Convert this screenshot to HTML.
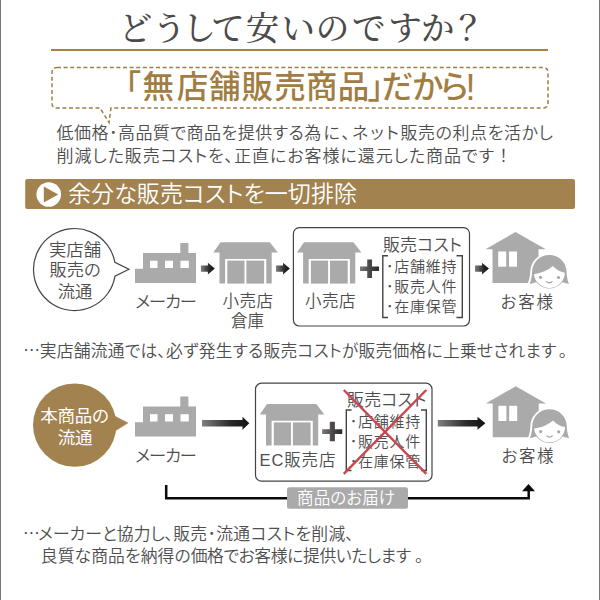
<!DOCTYPE html>
<html lang="ja">
<head>
<meta charset="utf-8">
<title>どうして安いのですか?</title>
<style>
html,body{margin:0;padding:0;background:#fff;}
body{width:600px;height:600px;overflow:hidden;position:relative;}
svg{position:absolute;left:0;top:0;display:block;}
text{font-family:"Liberation Sans","Noto Sans CJK JP",sans-serif;font-weight:350;fill:#4e4e4e;font-feature-settings:"palt";}
.serif{font-family:"Liberation Serif","Noto Serif CJK JP","Noto Serif CJK SC",serif;font-weight:500;fill:#4b4b4b;font-feature-settings:normal;}
.gold{fill:#a17d42;}
.w{fill:#fff;}
.lbl{font-size:16.5px;}
.cj{font-family:"Noto Sans CJK JP","Liberation Sans",sans-serif;font-feature-settings:normal;}
</style>
</head>
<body>
<svg width="600" height="600" viewBox="0 0 600 600">
<defs>
  <linearGradient id="ga" x1="0" y1="0" x2="1" y2="0">
    <stop offset="0" stop-color="#808080"/>
    <stop offset="0.6" stop-color="#2a2a2a"/>
    <stop offset="1" stop-color="#111"/>
  </linearGradient>
  <linearGradient id="gp" x1="0" y1="0" x2="1" y2="0">
    <stop offset="0" stop-color="#7a7a7a"/>
    <stop offset="0.500" stop-color="#4c4848"/>
    <stop offset="1" stop-color="#2e2828"/>
  </linearGradient>
  <!-- short arrow, origin at left / centre-y -->
  <g id="arrS">
    <path d="M0,-3.100 H7 V-5.900 L13.900,0 L7,5.900 V3.100 H0 Z" fill="url(#ga)"/>
  </g>
  <!-- factory, origin at left-bottom -->
  <g id="factory">
    <path d="M0,0 V-14.300 H8 V-30 H45.300 V-40 H53.400 V-30 H61 V0 Z" fill="#aaaaaa"/>
    <rect x="15" y="-22.3" width="7.5" height="7.3" fill="#fff"/>
    <rect x="30" y="-22.3" width="8" height="7.3" fill="#fff"/>
    <rect x="45.5" y="-22.3" width="8.3" height="7.3" fill="#fff"/>
  </g>
  <!-- shop / warehouse, origin at wall left-bottom -->
  <g id="shop">
    <path d="M-6.200,-31 L1,-41.300 H50.300 L58.300,-31 H52.200 V0 H46.800 V-24.600 H5.600 V0 H0 V-31 Z" fill="#aaaaaa"/>
    <rect x="7.800" y="-23" width="17.200" height="23" fill="#aaaaaa"/>
    <rect x="26.900" y="-23" width="17.700" height="23" fill="#aaaaaa"/>
  </g>
  <!-- plus, origin centre -->
  <g id="plus">
    <path d="M-9.500,-2.200 H-2.300 V-9.400 H2.500 V-2.200 H9.500 V2.200 H2.500 V9.300 H-2.300 V2.200 H-9.500 Z" fill="url(#gp)"/>
  </g>
  <!-- house + face, origin at roof apex -->
  <g id="house">
    <path d="M0,0 L30.3,17.3 H23 V51 H-23 V17.3 H-30 Z" fill="#aaaaaa"/>
    <rect x="-17.3" y="19.5" width="8" height="15.2" fill="#fff"/>
    <rect x="-6.5" y="19.5" width="8" height="15.2" fill="#fff"/>
    <!-- face -->
    <g transform="translate(33.8,40.3)">
      <path d="M-19.600,11.600 C-18,7 -17.300,4 -17.300,0 A17.300,17.300 0 0 1 17.300,0 C17.300,4 18,7 19.600,11.600 L13.500,10.500 A16.300,16.300 0 0 1 -13.500,10.500 Z" fill="#fff" stroke="#fff" stroke-width="3.600" stroke-linejoin="round"/>
      <path d="M-19.600,11.600 C-18,7 -17.300,4 -17.300,0 A17.300,17.300 0 0 1 17.300,0 C17.300,4 18,7 19.600,11.600 L13,10 L-13,10 Z" fill="#aaaaaa"/>
      <circle cx="0" cy="0" r="16.300" fill="#aaaaaa"/>
      <path d="M-15.400,2 Q-4,0.300 3.700,-6.200 Q8,-1 15.500,0.500 A15.500,15.500 0 0 1 -15.400,2 Z" fill="#fff"/>
      <circle cx="-8.800" cy="5" r="1.600" fill="#a8a8a8"/>
      <circle cx="9.200" cy="5.200" r="1.600" fill="#a8a8a8"/>
      <path d="M-2.800,9.300 Q0,11.900 2.800,9.300" fill="none" stroke="#a0a0a0" stroke-width="1.100" stroke-linecap="round"/>
    </g>
  </g>
</defs>

<!-- side borders -->
<rect x="0" y="0" width="1" height="600" fill="#777"/>
<rect x="599" y="0" width="1" height="600" fill="#777"/>

<!-- title -->
<text class="serif" text-anchor="middle" y="40.3" font-size="33.5" x="135.4 169.2 199.3 228.0 262.5 298.3 332.5 368.7 404.9 437.7 468.0">どうして安いのですか？</text>
<rect x="51" y="49" width="497" height="2" fill="#a8833f"/>

<!-- dashed balloon -->
<path d="M57,67.500 H543 Q548,67.500 548,72.500 V103 Q548,108 543,108 H111 L109,122.500 L100,108 H57 Q52,108 52,103 V72.500 Q52,67.500 57,67.500 Z" fill="none" stroke="#a17d42" stroke-width="1.500" stroke-dasharray="4 2.600"/>
<text class="gold" text-anchor="middle" y="97.7" font-size="31.5" style="font-weight:500;font-feature-settings:normal" x="125.5 158.2 192.5 224.7 257.2 290.0 321.7 353.5 383.2 397.5 427.8 454.2">「無店舗販売商品」だから<tspan x="470.500" y="100" font-size="36">!</tspan></text>

<!-- lead text -->
<text y="139" font-size="17"><tspan x="56.500" textLength="264.700">低価格･高品質で商品を提供する為</tspan><tspan x="323.500" textLength="75.300">に､ネット</tspan><tspan x="400.500" textLength="152.400">販売の利点を活かし</tspan></text>
<text y="162" font-size="17"><tspan x="56.500" textLength="437.500">削減した販売コストを､正直にお客様に還元した商品です</tspan><tspan x="499.300">！</tspan></text>

<!-- section bar -->
<rect x="25.200" y="179" width="549.800" height="29.900" rx="2" fill="#a2824e"/>
<circle cx="48.750" cy="194.500" r="12.300" fill="#fff"/>
<path d="M43.800,186.400 L58.300,194.500 L43.800,202.600 Z" fill="#a2824e"/>
<text class="w" x="68" y="202.3" font-size="23" textLength="289" lengthAdjust="spacing">余分な販売コストを一切排除</text>

<!-- ===== row 1 ===== -->
<path d="M114.880,262.400 A41,41 0 1 0 114.970,276.100 L128.900,269.300 Z" fill="#fff" stroke="#444" stroke-width="1.200" stroke-linejoin="miter"/>
<text x="75" y="255.600" font-size="17.300" text-anchor="middle">実店舗</text>
<text x="75" y="276" font-size="17.300" text-anchor="middle">販売の</text>
<text x="75" y="298" font-size="17.300" text-anchor="middle">流通</text>

<use href="#factory" x="135" y="283"/>
<text x="135.300" y="307.500" font-size="17.200" textLength="61.500">メーカー</text>
<use href="#arrS" x="200.900" y="268.600"/>
<use href="#shop" x="219.500" y="283.600"/>
<text class="lbl" x="222.500" y="307.300" textLength="50.500">小売店</text>
<text class="lbl" x="247.500" y="327" text-anchor="middle">倉庫</text>
<use href="#arrS" x="276" y="268.600"/>

<rect x="293.400" y="227.600" width="176.100" height="98.400" rx="6" fill="#fff" stroke="#444" stroke-width="1.200"/>
<use href="#shop" x="303.100" y="283.600"/>
<text class="lbl" x="305" y="307" textLength="50.500">小売店</text>
<use href="#plus" x="369.500" y="268.800"/>
<text x="383" y="251" font-size="17" textLength="79" lengthAdjust="spacing">販売コスト</text>
<path d="M388,255.700 H382.800 V317.500 H388 M456.500,255.700 H462.300 V317.500 H456.500" fill="none" stroke="#444" stroke-width="1.400"/>
<text x="386" y="272.400" font-size="15" textLength="70.500" lengthAdjust="spacing">･店舗維持</text>
<text x="386" y="292.100" font-size="15" textLength="70.500" lengthAdjust="spacing">･販売人件</text>
<text x="386" y="312.100" font-size="15" textLength="70.500" lengthAdjust="spacing">･在庫保管</text>
<use href="#arrS" x="475" y="268.600"/>
<use href="#house" x="515.500" y="232"/>
<text class="lbl" x="500.500" y="307.500" textLength="52.500">お客様</text>

<text class="cj" x="23.200" y="357" font-size="16.800">…</text>
<text y="357" font-size="16.800"><tspan x="39.800" textLength="516.500">実店舗流通では､必ず発生する販売コストが販売価格に上乗せされます</tspan><tspan x="559">｡</tspan></text>

<!-- ===== row 2 ===== -->
<circle cx="74.700" cy="425.100" r="41.700" fill="#a2824e"/><path d="M113,415.300 L127.900,422.900 L114.500,431.300 Z" fill="#a2824e" stroke="#a2824e" stroke-width="0.600" stroke-linejoin="round"/>
<text class="w" x="40.300" y="422.200" font-size="17.500" textLength="68.500" style="font-weight:400">本商品の</text>
<text class="w" x="57.700" y="443.700" font-size="17.500" textLength="34.800" style="font-weight:400">流通</text>

<use href="#factory" x="135" y="436.500"/>
<text x="135.300" y="461.500" font-size="17.200" textLength="61.500">メーカー</text>
<path d="M202,420 H242.500 V416.800 L249.300,423.300 L242.500,429.800 V426.600 H202 Z" fill="url(#ga)"/>

<rect x="255.500" y="383.200" width="176.500" height="98" rx="6" fill="#fff" stroke="#444" stroke-width="1.200"/>
<use href="#shop" x="266" y="445.400"/>
<text class="lbl" x="259.500" y="466.200" textLength="76">EC販売店</text>
<use href="#plus" transform="translate(332.200,431.600) scale(1.060,1.040)"/>
<text x="347" y="405.500" font-size="17" textLength="79.300" lengthAdjust="spacing">販売コスト</text>
<path d="M351.500,410 H346.300 V470.500 H351.500 M421,410 H426.300 V470.500 H421" fill="none" stroke="#444" stroke-width="1.400"/>
<text x="349.800" y="427" font-size="15" textLength="70.500" lengthAdjust="spacing">･店舗維持</text>
<text x="349.800" y="447" font-size="15" textLength="70.500" lengthAdjust="spacing">･販売人件</text>
<text x="349.800" y="467" font-size="15" textLength="70.500" lengthAdjust="spacing">･在庫保管</text>
<path d="M343.800,390 L426.300,473.800 M426.300,390 L343.800,473.800" fill="none" stroke="#c9474f" stroke-width="2.400"/>

<path d="M437.800,420 H477.500 V416.800 L485.400,423.300 L477.500,429.800 V426.600 H437.800 Z" fill="url(#ga)"/>
<use href="#house" x="515.700" y="386.300"/>
<text class="lbl" x="501.500" y="462" textLength="52">お客様</text>

<!-- delivery line -->
<path d="M166.200,485 V498.200 H528.700 V490" fill="none" stroke="#0a0a0a" stroke-width="2.500"/>
<path d="M522,491.200 L528.500,484 L535,491.200 Z" fill="#0a0a0a"/>
<rect x="287" y="487.200" width="121" height="21.600" rx="2.500" fill="#aaaaaa"/>
<text class="w" x="297" y="504.300" font-size="16.500" textLength="98" lengthAdjust="spacing">商品のお届け</text>

<text class="cj" x="23" y="540.300" font-size="16.800">…</text>
<text y="540.300" font-size="16.800"><tspan x="38.300" textLength="134.900">メーカーと協力し､</tspan><tspan x="173.200" textLength="180.800">販売･流通コストを削減､</tspan></text>
<text y="561.700" font-size="16.800"><tspan x="40.700" textLength="150">良質な商品を納得の</tspan><tspan x="190.700" textLength="220.300">価格でお客様に提供いたします</tspan><tspan x="415.200">｡</tspan></text>
</svg>
</body>
</html>
